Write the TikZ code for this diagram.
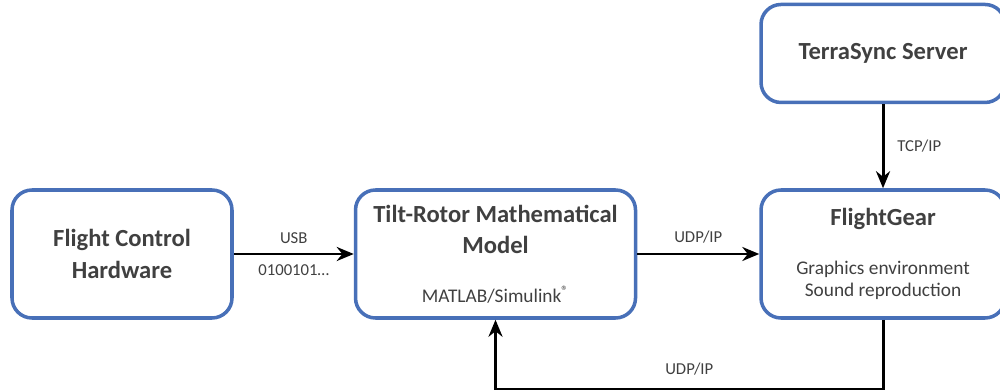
\documentclass[tikz,border=0pt]{standalone}
\usepackage{fontspec}
\setmainfont{Carlito}
\usepackage{tikz}
\usetikzlibrary{arrows.meta, positioning}

\definecolor{boxblue}{RGB}{72,112,184}
\definecolor{subgray}{RGB}{64,64,64}
\newcommand{\bigbf}{\fontsize{14pt}{18pt}\selectfont\bfseries\color{black}}
\newcommand{\smallgray}{\fontsize{11pt}{13pt}\selectfont\mdseries\color{subgray}}

\begin{document}
\begin{tikzpicture}[
  every node/.style={font=\fontsize{9.5pt}{12pt}\selectfont, text=subgray},
  block/.style={draw=boxblue, line width=2pt, rounded corners=0.4cm,
    minimum height=2.56cm, align=center, font=\bigbf},
  >={Stealth[length=3.4mm, width=2.8mm]}
]
  \useasboundingbox (-2.44,-2.72) rectangle (17.56,5.08);

  % Nodes
  \node (FCH) [block, minimum width=4.4cm] at (0,0) {Flight Control\\Hardware};
  \node (TRM) [block, minimum width=5.6cm, right=2.4cm of FCH]
    {Tilt-Rotor Mathematical\\Model\\[9.5pt]\smallgray MATLAB/Simulink\textsuperscript{\textregistered}};
  \node (FG) [block, minimum width=4.88cm, right=2.44cm of TRM]
    {FlightGear\\[9.8pt]\smallgray Graphics environment\\[-5pt]\smallgray Sound reproduction};
  \node (TS) [block, minimum width=4.88cm, minimum height=1.96cm, above=1.68cm of FG]
    {TerraSync Server};

  % Edges
  \draw [->, line width=1.7pt] (FCH) -- (TRM)
    node [midway, above=2pt] {USB} node [midway, below=2pt] {0100101…};
  \draw [->, line width=1.7pt] (TRM) -- (FG) node [midway, above=2pt] {UDP/IP};
  \draw [->, line width=1.7pt] (TS) -- (FG) node [midway, right=4pt] {TCP/IP};
  \draw [->, line width=1.7pt] (FG.south) |- ([yshift=-1.4cm]TRM.south)
    node [pos=0.75, above=4pt] {UDP/IP} -- (TRM.south);
\end{tikzpicture}
\end{document}
